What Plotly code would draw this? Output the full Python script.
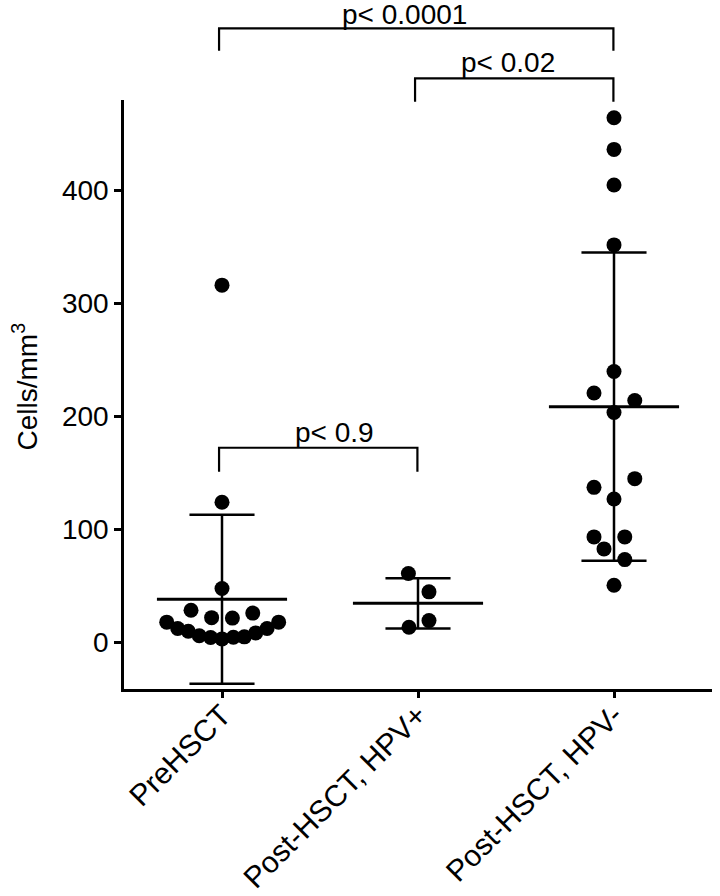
import numpy as np
import plotly.graph_objects as go

# ---------------- data ----------------
categories = ["PreHSCT", "Post-HSCT, HPV+", "Post-HSCT, HPV-"]

pre_hsct = [316, 124, 47.7, 28.5, 22, 21.6, 26, 18, 12.4, 10, 6, 4.4, 3.2, 4.7, 5, 8.5, 12.4, 18]
post_hpv_pos = [61, 44.8, 19.4, 13.5]
post_hpv_neg = [464, 436, 404.6, 351.6, 239.7, 220.6, 214, 203.4, 144.9, 137.2, 126.9,
                93.4, 93.4, 82.8, 73.3, 50.6]

# horizontal scatter offsets of each dot (category units), as laid out in the swarm
pre_jitter = [0, 0, 0, -0.158, -0.053, 0.053, 0.157, -0.282, -0.226, -0.172, -0.116,
              -0.058, 0, 0.058, 0.114, 0.172, 0.23, 0.289]
pos_jitter = [-0.049, 0.056, 0.056, -0.046]
neg_jitter = [0, 0, 0, 0, 0, -0.102, 0.106, 0, 0.106, -0.102, 0, -0.102, 0.055, -0.051, 0.055, 0]

comparisons = [(0, 2, "p< 0.0001"), (1, 2, "p< 0.02"), (0, 1, "p< 0.9")]
y_ticks = [0, 100, 200, 300, 400]

groups = [pre_hsct, post_hpv_pos, post_hpv_neg]
jitters = [pre_jitter, pos_jitter, neg_jitter]

# ---------------- figure ----------------
FONT = "Liberation Sans, Arial, sans-serif"
fig = go.Figure()

# mean and SD lines
lx, ly = [], []
MEAN_HW, CAP_HW = 0.332, 0.166
for i, vals in enumerate(groups):
    m = float(np.mean(vals))
    sd = float(np.std(vals, ddof=1))
    lx += [i, i, None]
    ly += [m - sd, m + sd, None]
    lx += [i - CAP_HW, i + CAP_HW, None, i - CAP_HW, i + CAP_HW, None]
    ly += [m + sd, m + sd, None, m - sd, m - sd, None]
fig.add_trace(go.Scatter(x=lx, y=ly, mode="lines", line=dict(color="black", width=2.5),
                         hoverinfo="skip", showlegend=False))
mx, my = [], []
for i, vals in enumerate(groups):
    m = float(np.mean(vals))
    mx += [i - MEAN_HW, i + MEAN_HW, None]
    my += [m, m, None]
fig.add_trace(go.Scatter(x=mx, y=my, mode="lines", line=dict(color="black", width=3),
                         hoverinfo="skip", showlegend=False))

# dots
for i, (vals, jit) in enumerate(zip(groups, jitters)):
    fig.add_trace(go.Scatter(
        x=[i + j for j in jit], y=vals, mode="markers",
        marker=dict(color="black", size=15, line=dict(width=0)),
        name=categories[i], showlegend=False, cliponaxis=False))

# significance brackets
bracket_levels = {
    (0, 2): ("paper", 1.1217, 1.0837, 1.146),
    (1, 2): ("paper", 1.0368, 0.9971, 1.064),
    (0, 1): ("y", 172.2, 151.0, 186.0),
}
text_x = {(0, 2): 0.93, (1, 2): 1.46, (0, 1): 0.574}
for a, b, label in comparisons:
    ref, ybar, ydrop, ytext = bracket_levels[(a, b)]
    xa, xb = a - 0.015, b - 0.003
    fig.add_shape(type="path", xref="x", yref=ref,
                  path=f"M {xa} {ydrop} L {xa} {ybar} L {xb} {ybar} L {xb} {ydrop}",
                  line=dict(color="black", width=2.2))
    fig.add_annotation(x=text_x[(a, b)], y=ytext, xref="x", yref=ref, text=label,
                       showarrow=False, xanchor="center", yanchor="middle",
                       font=dict(family=FONT, size=28, color="black"))

# y axis title
fig.add_annotation(x=-0.168, y=0.514, xref="paper", yref="paper",
                   text="Cells/mm<sup>3</sup>", textangle=-90, showarrow=False,
                   xanchor="center", yanchor="middle",
                   font=dict(family=FONT, size=28, color="black"))

fig.update_layout(
    width=720, height=896,
    margin=dict(l=124, r=8, t=100, b=207, autoexpand=False),
    paper_bgcolor="white", plot_bgcolor="white",
    font=dict(family=FONT, color="black"),
    showlegend=False,
    xaxis=dict(range=[-0.5, 2.5], tickmode="array", tickvals=[0, 1, 2], ticktext=categories,
               tickangle=-45, ticks="outside", ticklen=6, tickwidth=2.5, tickcolor="black",
               ticklabelstandoff=-12,
               showline=True, linecolor="black", linewidth=2.5, showgrid=False, zeroline=False,
               tickfont=dict(family=FONT, size=30, color="black")),
    yaxis=dict(range=[-41.1, 479.7], tickmode="array", tickvals=y_ticks,
               ticks="outside", ticklen=7, tickwidth=2.5, tickcolor="black",
               showline=True, linecolor="black", linewidth=2.5, showgrid=False, zeroline=False,
               tickfont=dict(family=FONT, size=28, color="black")),
)

fig.write_html("out.html", config={"displayModeBar": False},
               post_script="document.body.style.margin='0px';")
